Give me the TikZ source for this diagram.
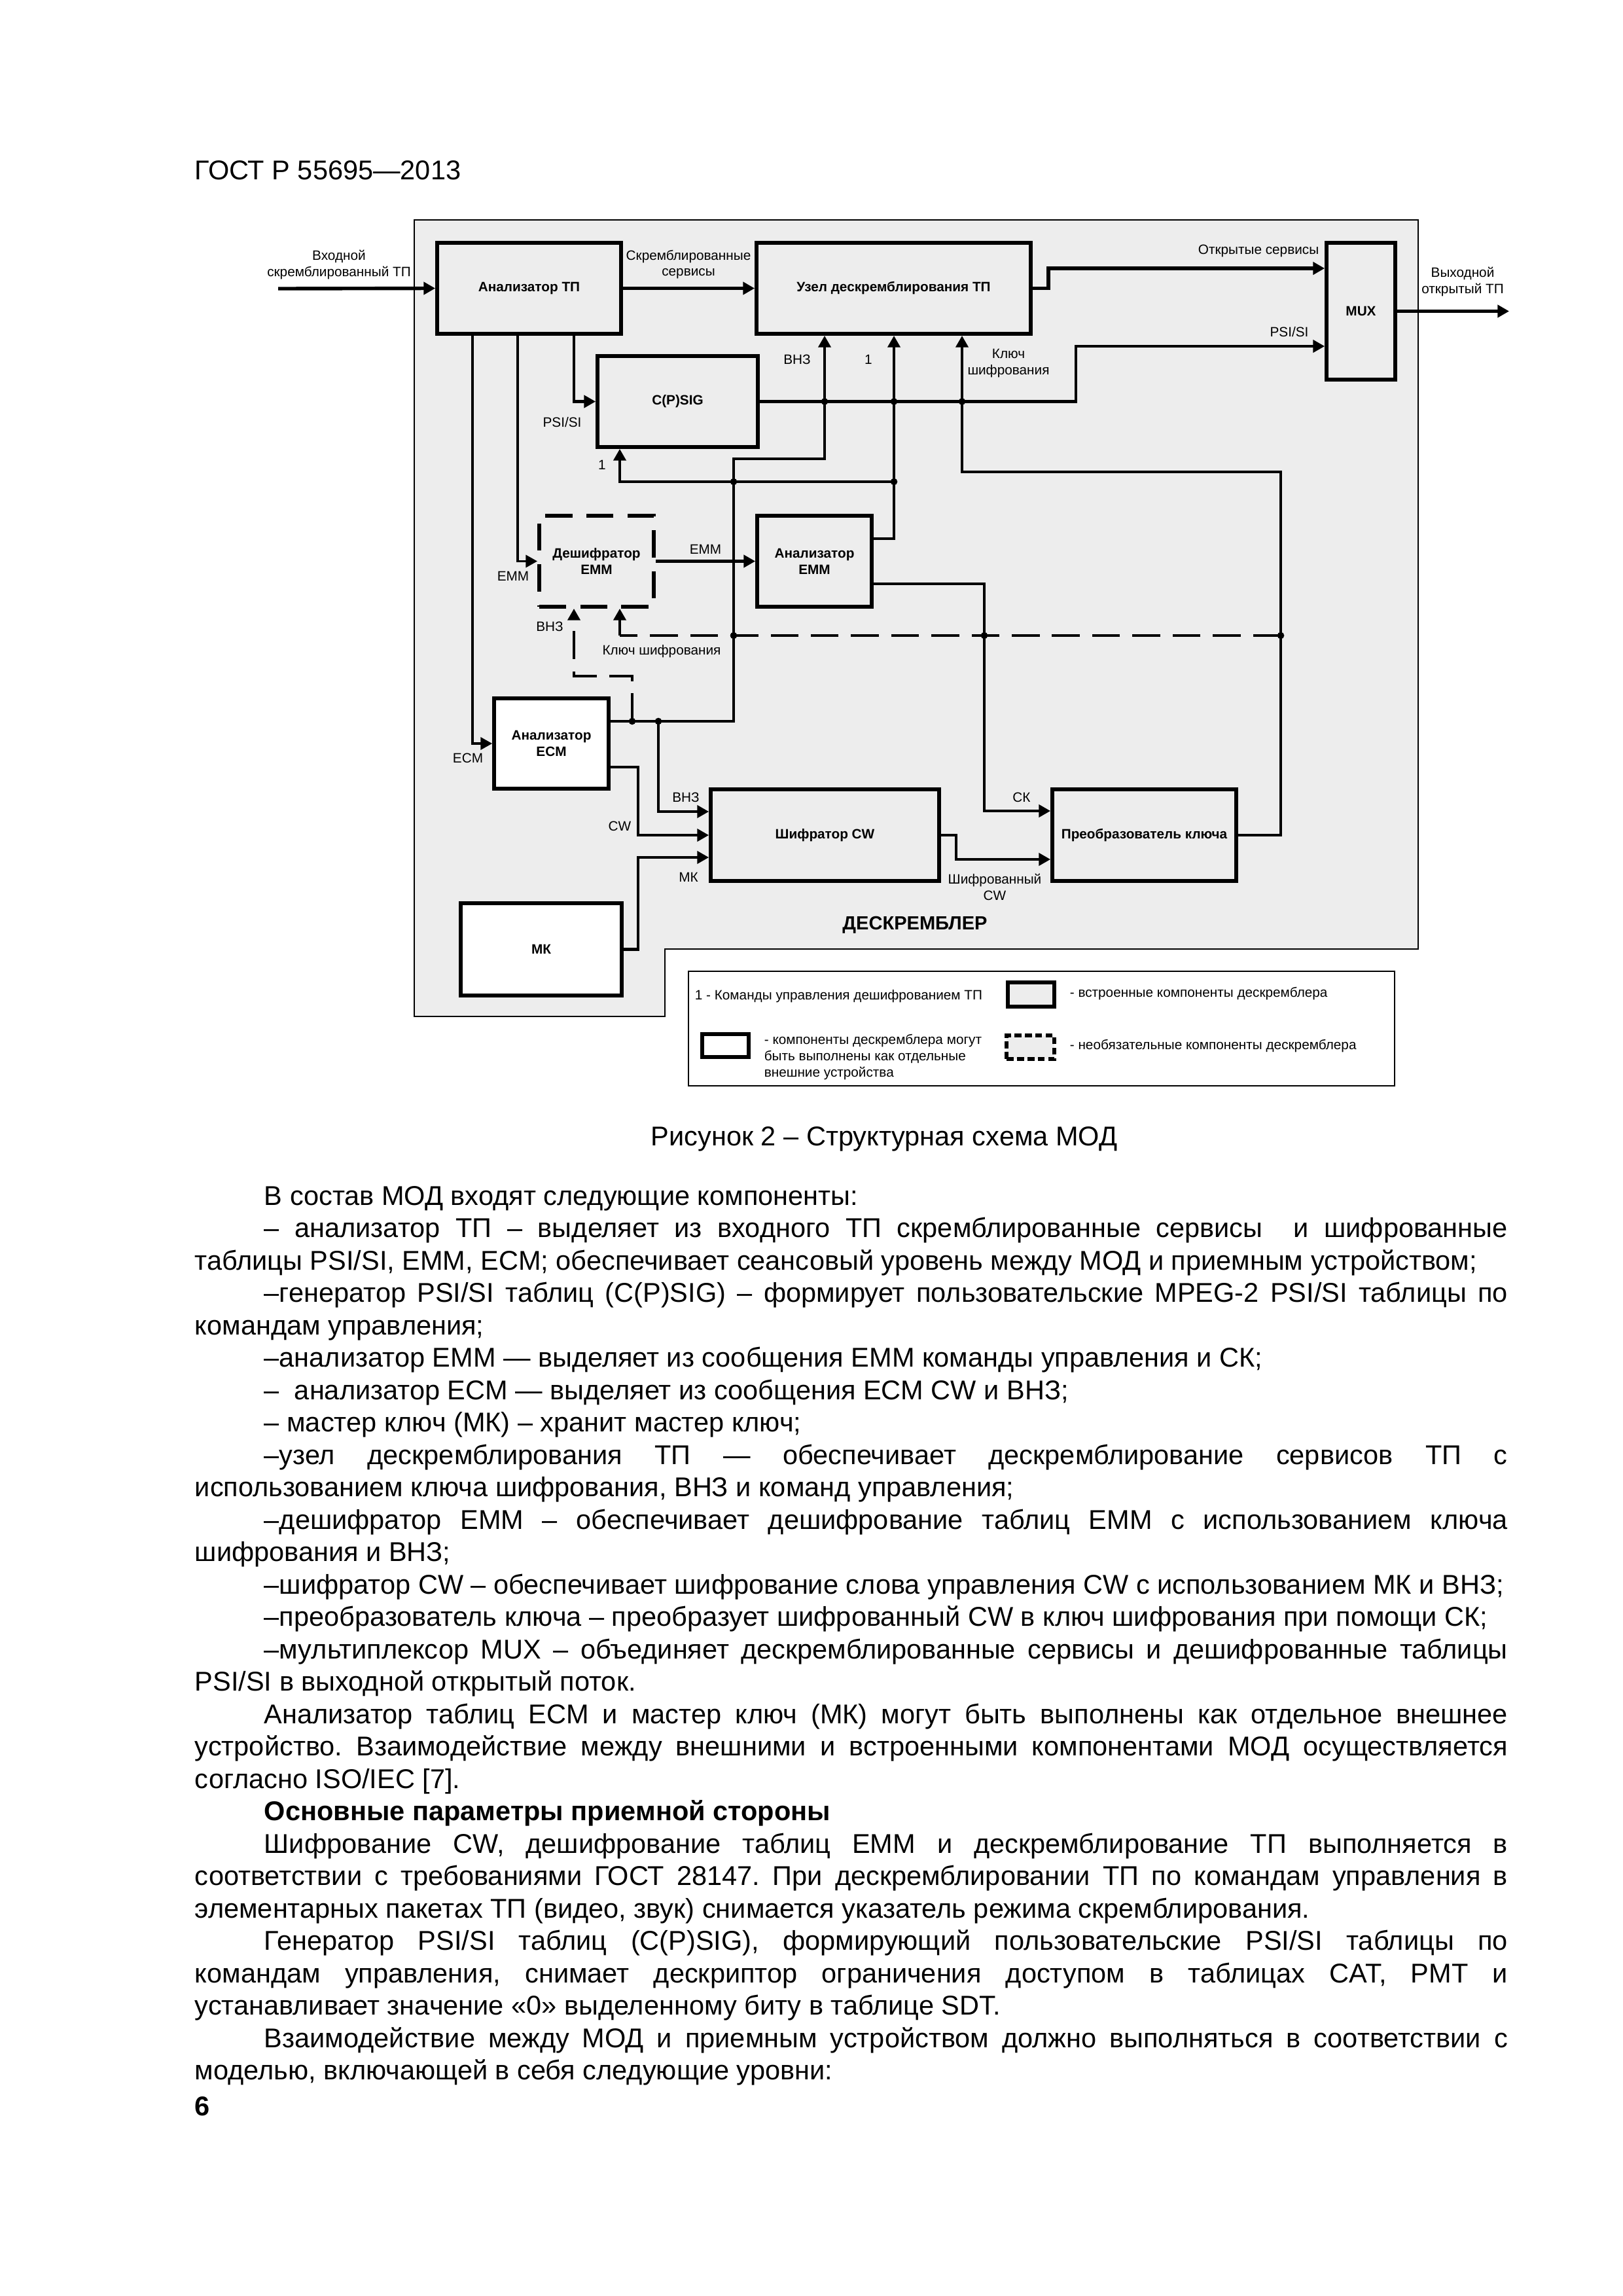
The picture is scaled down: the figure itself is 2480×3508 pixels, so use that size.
\documentclass[tikz,border=0pt]{standalone}
\usepackage{fontspec}
\setmainfont{Liberation Sans}
\usetikzlibrary{arrows.meta}
\frenchspacing

\newcommand{\dlbl}{\fontsize{5}{6}\selectfont}
\newcommand{\dbox}{\fontsize{5}{6}\selectfont\bfseries}
\newcommand{\bodyf}{\fontsize{10}{12}\selectfont}
\newlength{\fullw}\setlength{\fullw}{169.85mm}
\newlength{\indw}\setlength{\indw}{160.87mm}

\definecolor{diagbg}{gray}{0.93}

\tikzset{
    sz/.style 2 args={minimum width=#1*0.0846667mm, minimum height=#2*0.0846667mm},
    blk/.style={draw, line width=1.4pt, fill=diagbg, inner sep=0pt, align=center, font=\dbox},
    extblk/.style={blk, fill=white},
    optblk/.style={blk, dash pattern=on 3.5mm off 1.8mm},
    conn/.style={line width=1pt},
    thinconn/.style={line width=0.8pt},
    arr/.style={conn, -{Triangle[length=1.5mm,width=1.6mm]}},
    dconn/.style={conn, dash pattern=on 3.6mm off 1.6mm},
    lbl/.style={font=\dlbl, inner sep=0pt, align=center},
    body/.style={anchor=base west, inner sep=0pt, font=\bodyf},
}

\begin{document}
\begin{tikzpicture}[x=0.0846667mm, y=-0.0846667mm]
    \fill[white] (0,0) rectangle (2480,3508);
    \useasboundingbox (0,0) rectangle (2480,3508);

    \node[body, font=\fontsize{10}{12}\selectfont] (hdr) at (297,274) {ГОСТ Р 55695—2013};

    % descrambler field
    \draw[fill=diagbg, line width=0.3pt] (633,336) -- (2167,336) -- (2167,1450) -- (1016,1450)
        -- (1016,1553) -- (633,1553) -- cycle;

    % blocks
    \node[blk, sz={281}{139}] (tp) at (808.5,440.5) {Анализатор ТП};
    \node[blk, sz={419}{139}] (uzel) at (1365.5,440.5) {Узел дескремблирования ТП};
    \node[blk, sz={105}{209}] (mux) at (2079.5,475.5) {MUX};
    \node[blk, sz={245}{139}] (csig) at (1035.5,613.5) {C(P)SIG};
    \node[optblk, sz={175}{139}] (desh) at (911.5,857.5) {Дешифратор\\EMM};
    \node[blk, sz={175}{139}] (aemm) at (1244.5,857.5) {Анализатор\\EMM};
    \node[extblk, sz={175}{138}] (aecm) at (842.5,1136) {Анализатор\\ECM};
    \node[blk, sz={349}{140}] (shifr) at (1260.5,1276) {Шифратор CW};
    \node[blk, sz={281}{140}] (preob) at (1748.5,1276) {Преобразователь ключа};
    \node[extblk, sz={246}{141}] (mk) at (827,1450.5) {МК};

    % rails
    \coordinate (inTP) at (425,441);
    \coordinate (outTP) at (2306,475.5);
    \coordinate (xEcm) at (722,0);
    \coordinate (xEmm) at (791,0);
    \coordinate (xPsi) at (877,0);
    \coordinate (xDKey) at (947,0);
    \coordinate (xDVnz) at (966,0);
    \coordinate (xCw) at (975,0);
    \coordinate (xVnz2) at (1006,0);
    \coordinate (xVnz) at (1121,0);
    \coordinate (xVnzU) at (1260,0);
    \coordinate (xCmd) at (1366,0);
    \coordinate (xShO) at (1461,0);
    \coordinate (xKey) at (1470,0);
    \coordinate (xSk) at (1504,0);
    \coordinate (xOpen) at (1602,0);
    \coordinate (xPsi2) at (1644,0);
    \coordinate (xKeyR) at (1957,0);
    \coordinate (yOpen) at (0,410);
    \coordinate (yPsi2) at (0,529);
    \coordinate (yVnz) at (0,701);
    \coordinate (yKey) at (0,721);
    \coordinate (yCmdBr) at (0,736);
    \coordinate (yEmmO1) at (0,823);
    \coordinate (yEmmO2) at (0,892);
    \coordinate (yDash) at (0,971);
    \coordinate (yDV) at (0,1033);
    \coordinate (yEcmO) at (0,1102);
    \coordinate (yCwO) at (0,1172);
    \coordinate (ySkIn) at (0,1239);
    \coordinate (yVnzIn) at (0,1240);
    \coordinate (yMkIn) at (0,1310);
    \coordinate (yShO) at (0,1313);

    % connectors
    \draw[arr, line width=1.3pt] (inTP) -- (tp.west);
    \draw[arr, line width=1.3pt] (tp.east) -- (uzel.west);
    \draw[arr] (tp.south -| xPsi) |- (csig.west);
    \draw[arr, thinconn] (tp.south -| xEmm) |- (desh.west);
    \draw[arr, thinconn] (tp.south -| xEcm) |- (aecm.west);
    \draw[arr, line width=1.3pt] (uzel.east) -- (uzel.east -| xOpen) |- (mux.west |- yOpen);
    \draw[arr] (csig.east) -- (csig.east -| xPsi2) |- (mux.west |- yPsi2);
    \draw[arr, line width=1.3pt] (mux.east) -- (outTP);
    \draw[arr] (aecm.east |- yEcmO) -| (xVnz |- yVnz) -| (uzel.south -| xVnzU);
    \draw[arr] (aemm.east |- yEmmO1) -| (uzel.south -| xCmd);
    \draw[arr] (xCmd |- yCmdBr) -| (csig.south -| xDKey);
    \draw[arr] (preob.east) -| (xKeyR |- yKey) -| (uzel.south -| xKey);
    \draw[dconn] (xKeyR |- yDash) -- (xDKey |- yDash);
    \draw[arr] (xDKey |- yDash) -- (desh.south -| xDKey);
    \draw[arr] (desh.east) -- (aemm.west);
    \draw[arr] (aemm.east |- yEmmO2) -| (xSk |- ySkIn) -- (preob.west |- ySkIn);
    \draw[dconn, -{Triangle[length=1.5mm,width=1.6mm]}] (xDVnz |- yEcmO) |- (xPsi |- yDV)
        -- (desh.south -| xPsi);
    \draw[arr] (xVnz2 |- yEcmO) |- (shifr.west |- yVnzIn);
    \draw[arr] (aecm.east |- yCwO) -| (xCw |- shifr.west) -- (shifr.west);
    \draw[arr] (mk.east) -| (xCw |- yMkIn) -- (shifr.west |- yMkIn);
    \draw[arr] (shifr.east) -| (xShO |- yShO) -- (preob.west |- yShO);

    % junctions
    \foreach \j in {(csig.east -| xVnzU), (csig.east -| xCmd), (csig.east -| xKey),
        (xVnz |- yCmdBr), (xCmd |- yCmdBr), (xVnz |- yDash), (xSk |- yDash),
        (xKeyR |- yDash), (xDVnz |- yEcmO), (xVnz2 |- yEcmO)}
        \fill \j circle[radius=0.45mm];

    % labels
    \node[lbl] (lIn) at (518,404) {Входной\\скремблированный ТП};
    \node[lbl] (lScr) at (1052,404) {Скремблированные\\сервисы};
    \node[lbl] (lOpen) at (1923,383) {Открытые сервисы};
    \node[lbl] (lOut) at (2235,430) {Выходной\\открытый ТП};
    \node[lbl] (lPsi1) at (859,645) {PSI/SI};
    \node[lbl] (lOne1) at (920,710) {1};
    \node[lbl] (lVnz1) at (1218,549) {ВНЗ};
    \node[lbl] (lOne2) at (1327,549) {1};
    \node[lbl] (lKey1) at (1541,555) {Ключ\\шифрования};
    \node[lbl] (lPsi2) at (1970,507) {PSI/SI};
    \node[lbl] (lEmm1) at (784,880) {EMM};
    \node[lbl] (lEmm2) at (1078,839) {EMM};
    \node[lbl] (lVnz2) at (840,957) {ВНЗ};
    \node[lbl] (lKey2) at (1011,995) {Ключ шифрования};
    \node[lbl] (lEcm) at (715,1158) {ECM};
    \node[lbl] (lVnz3) at (1048,1218) {ВНЗ};
    \node[lbl] (lCw) at (947,1262) {CW};
    \node[lbl] (lMk) at (1052,1340) {МК};
    \node[lbl] (lSk) at (1561,1218) {СК};
    \node[lbl] (lShCw) at (1520,1355) {Шифрованный\\CW};
    \node[lbl, font=\fontsize{7}{8}\selectfont\bfseries] (lTitle) at (1398,1413) {ДЕСКРЕМБЛЕР};

    % legend
    \node[draw, line width=0.6pt, fill=white, sz={1079}{175}] (legend) at (1591.5,1571.5) {};
    \node[lbl, anchor=west] (lgCmd) at (1061,1522) {1 - Команды управления дешифрованием ТП};
    \node[blk, sz={71}{37}] (swIn) at (1575.5,1519.5) {};
    \node[lbl, anchor=west] (lgIn) at (1634,1518) {- встроенные компоненты дескремблера};
    \node[extblk, sz={71}{35}] (swExt) at (1108.5,1597.5) {};
    \node[lbl, anchor=west, align=left] (lgExt) at (1167,1615) {- компоненты дескремблера могут\\быть выполнены как отдельные\\внешние устройства};
    \node[blk, dash pattern=on 0.9mm off 0.45mm, sz={73}{36}] (swOpt) at (1574.5,1600) {};
    \node[lbl, anchor=west] (lgOpt) at (1634,1598) {- необязательные компоненты дескремблера};

    \node[anchor=base, inner sep=0pt, font=\bodyf] (cap) at (1351,1750) {Рисунок 2 – Структурная схема МОД};

    % body text
    \node[body] (b0) at (403,1841) {В состав МОД входят следующие компоненты:};
    \node[body] (b1) at (403,1890.5) {\makebox[\indw][s]{– анализатор ТП – выделяет из входного ТП скремблированные сервисы \ и шифрованные}};
    \node[body] (b2) at (297,1940) {таблицы PSI/SI, EMM, ECM; обеспечивает сеансовый уровень между МОД и приемным устройством;};
    \node[body] (b3) at (403,1989.5) {\makebox[\indw][s]{–генератор PSI/SI таблиц (C(P)SIG) – формирует пользовательские MPEG-2 PSI/SI таблицы по}};
    \node[body] (b4) at (297,2039) {командам управления;};
    \node[body] (b5) at (403,2088.5) {–анализатор EMM — выделяет из сообщения EMM команды управления и СК;};
    \node[body] (b6) at (403,2138) {–\ \ анализатор ECM — выделяет из сообщения ECM CW и ВНЗ;};
    \node[body] (b7) at (403,2187.5) {– мастер ключ (МК) – хранит мастер ключ;};
    \node[body] (b8) at (403,2237) {\makebox[\indw][s]{–узел дескремблирования ТП — обеспечивает дескремблирование сервисов ТП с}};
    \node[body] (b9) at (297,2286.5) {использованием ключа шифрования, ВНЗ и команд управления;};
    \node[body] (b10) at (403,2336) {\makebox[\indw][s]{–дешифратор EMM – обеспечивает дешифрование таблиц EMM с использованием ключа}};
    \node[body] (b11) at (297,2385.5) {шифрования и ВНЗ;};
    \node[body] (b12) at (403,2435) {–шифратор CW – обеспечивает шифрование слова управления CW с использованием МК и ВНЗ;};
    \node[body] (b13) at (403,2484.5) {–преобразователь ключа – преобразует шифрованный CW в ключ шифрования при помощи СК;};
    \node[body] (b14) at (403,2534) {\makebox[\indw][s]{–мультиплексор MUX – объединяет дескремблированные сервисы и дешифрованные таблицы}};
    \node[body] (b15) at (297,2583.5) {PSI/SI в выходной открытый поток.};
    \node[body] (b16) at (403,2633) {\makebox[\indw][s]{Анализатор таблиц ECM и мастер ключ (МК) могут быть выполнены как отдельное внешнее}};
    \node[body] (b17) at (297,2682.5) {\makebox[\fullw][s]{устройство. Взаимодействие между внешними и встроенными компонентами МОД осуществляется}};
    \node[body] (b18) at (297,2732) {согласно ISO/IEC [7].};
    \node[body, font=\bodyf\bfseries] (b19) at (403,2781.5) {Основные параметры приемной стороны};
    \node[body] (b20) at (403,2831) {\makebox[\indw][s]{Шифрование CW, дешифрование таблиц EMM и дескремблирование ТП выполняется в}};
    \node[body] (b21) at (297,2880.5) {\makebox[\fullw][s]{соответствии с требованиями ГОСТ 28147. При дескремблировании ТП по командам управления в}};
    \node[body] (b22) at (297,2930) {элементарных пакетах ТП (видео, звук) снимается указатель режима скремблирования.};
    \node[body] (b23) at (403,2979.5) {\makebox[\indw][s]{Генератор PSI/SI таблиц (C(P)SIG), формирующий пользовательские PSI/SI таблицы по}};
    \node[body] (b24) at (297,3029) {\makebox[\fullw][s]{командам управления, снимает дескриптор ограничения доступом в таблицах CAT, PMT и}};
    \node[body] (b25) at (297,3078.5) {устанавливает значение «0» выделенному биту в таблице SDT.};
    \node[body] (b26) at (403,3128) {\makebox[\indw][s]{Взаимодействие между МОД и приемным устройством должно выполняться в соответствии с}};
    \node[body] (b27) at (297,3177.5) {моделью, включающей в себя следующие уровни:};
    \node[body, font=\bodyf\bfseries] (pg) at (297,3232) {6};
\end{tikzpicture}
\end{document}
